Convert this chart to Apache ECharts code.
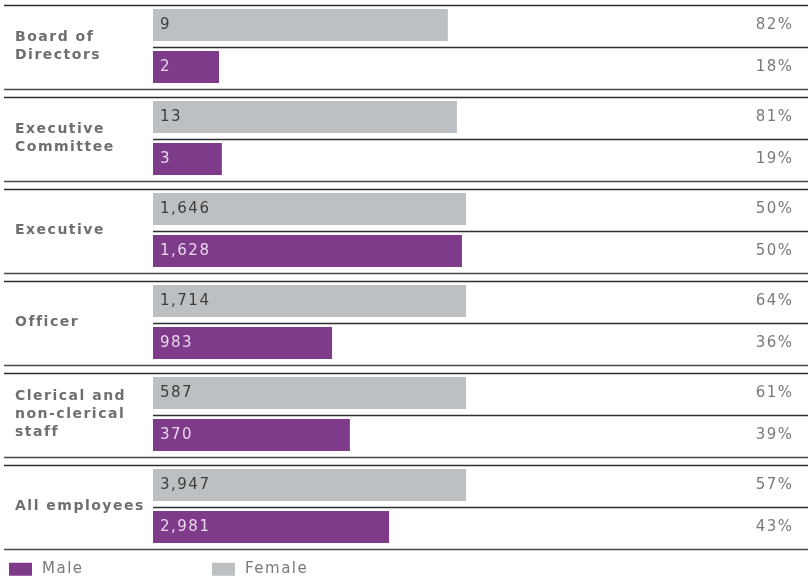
<!DOCTYPE html>
<html>
<head>
<meta charset="utf-8">
<script src="https://cdn.jsdelivr.net/npm/echarts@6/dist/echarts.min.js"></script>
<style>
html,body{margin:0;padding:0;background:#fff;}
#chart{width:808px;height:579px;}
</style>
</head>
<body>
<div id="chart"></div>
<script>
// ---- data ----
const categories = ['Board of\nDirectors', 'Executive\nCommittee', 'Executive', 'Officer', 'Clerical and\nnon-clerical\nstaff', 'All employees'];
const femaleCounts = [9, 13, 1646, 1714, 587, 3947];
const maleCounts = [2, 3, 1628, 983, 370, 2981];
const femalePct = [82, 81, 50, 64, 61, 57];
const malePct = [18, 19, 50, 36, 39, 43];
// bar lengths as drawn (percent of the full bar width)
const femaleBarLength = [94.2, 97.1, 100, 100, 100, 100];
const maleBarLength = [21.1, 22.0, 98.7, 57.2, 62.9, 75.4];

const PURPLE = '#7e3b89';
const GREY = '#bdc0c3';
const FONT = 'DejaVu Sans';

// the reference typography is letter-spaced; apply a small tracking to canvas text
(function () {
  const orig = HTMLCanvasElement.prototype.getContext;
  HTMLCanvasElement.prototype.getContext = function (type, opts) {
    const ctx = orig.call(this, type, opts);
    if (ctx && type === '2d' && 'letterSpacing' in ctx) { ctx.letterSpacing = '1.5px'; }
    return ctx;
  };
})();

const fmt = v => v.toLocaleString('en-US');

const chart = echarts.init(document.getElementById('chart'), null, {renderer: 'canvas'});

const decoData = categories.map((c, i) => [0, i]);

const option = {
  animation: false,
  grid: {left: 153, top: 0, width: 313, height: 552, containLabel: false},
  xAxis: {type: 'value', min: 0, max: 100, show: false},
  yAxis: {
    type: 'category', data: categories, inverse: true,
    axisLine: {show: false}, axisTick: {show: false}, splitLine: {show: false},
    axisLabel: {
      align: 'left', margin: 138, color: '#6f6f6f', fontFamily: FONT,
      fontSize: 14, fontWeight: 'bold', lineHeight: 18
    }
  },
  legend: [
    {data: [{name: 'Male', icon: 'rect'}], left: 9, top: 561, padding: 0, itemWidth: 23, itemHeight: 13,
     textStyle: {color: '#7a7a7a', fontFamily: FONT, fontSize: 15, padding: [0, 0, 0, 5]}},
    {data: [{name: 'Female', icon: 'rect'}], left: 212, top: 561, padding: 0, itemWidth: 23, itemHeight: 13,
     textStyle: {color: '#7a7a7a', fontFamily: FONT, fontSize: 15, padding: [0, 0, 0, 5]}}
  ],
  series: [
    {
      name: 'Female', type: 'bar', barWidth: 32, barGap: '31%',
      itemStyle: {color: GREY},
      data: femaleBarLength.map((v, i) => ({value: v, count: femaleCounts[i]})),
      label: {
        show: true, position: 'insideLeft', distance: 7, color: '#3d3d3d',
        fontFamily: FONT, fontSize: 15,
        formatter: p => fmt(femaleCounts[p.dataIndex])
      }
    },
    {
      name: 'Male', type: 'bar', barWidth: 32, barGap: '31%',
      itemStyle: {color: PURPLE},
      data: maleBarLength.map((v, i) => ({value: v, count: maleCounts[i]})),
      label: {
        show: true, position: 'insideLeft', distance: 7, color: '#ead6ee',
        fontFamily: FONT, fontSize: 15,
        formatter: p => fmt(maleCounts[p.dataIndex])
      }
    },
    {
      name: 'deco', type: 'custom', clip: false, silent: true, z: 5,
      encode: {x: 0, y: 1},
      data: decoData,
      renderItem: function (params, api) {
        const idx = api.value(1);
        const c = api.coord([0, idx]);
        const cy = c[1];
        const x0 = c[0];
        const band = api.size([0, 1])[1];
        const s = band / 92;
        const W = api.getWidth();
        const lineStyle = {stroke: '#2e2e2e', lineWidth: 1.5};
        const topY = Math.round(cy - 41.5 * s) + 0.5;
        const botY = Math.round(cy + 43 * s) + 0.5;
        const midY = Math.round(cy + 1 * s) + 0.5;
        return {
          type: 'group',
          children: [
            {type: 'line', shape: {x1: 4, y1: topY, x2: W, y2: topY}, style: lineStyle},
            {type: 'line', shape: {x1: 4, y1: botY, x2: W, y2: botY}, style: {stroke: '#4a4a4a', lineWidth: 1.5}},
            {type: 'line', shape: {x1: x0, y1: midY, x2: W, y2: midY}, style: lineStyle},
            {type: 'text', x: W - 14.5, y: cy - 21 * s, style: {
              text: femalePct[idx] + '%', fill: '#7a7a7a', font: '15px "' + FONT + '"',
              textAlign: 'right', textVerticalAlign: 'middle'}},
            {type: 'text', x: W - 14.5, y: cy + 21 * s, style: {
              text: malePct[idx] + '%', fill: '#7a7a7a', font: '15px "' + FONT + '"',
              textAlign: 'right', textVerticalAlign: 'middle'}}
          ]
        };
      }
    }
  ]
};
chart.setOption(option);
</script>
</body>
</html>
